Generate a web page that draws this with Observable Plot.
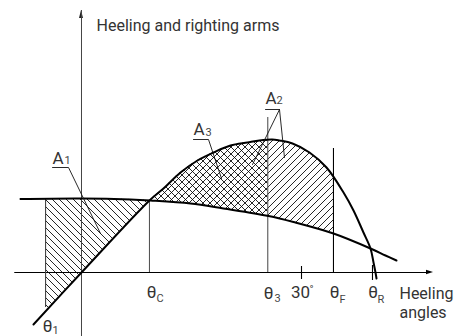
<!DOCTYPE html>
<html><head><meta charset="utf-8">
<script src="https://cdn.jsdelivr.net/npm/d3@7"></script>
<script src="https://cdn.jsdelivr.net/npm/@observablehq/plot@0.6"></script>
<style>
html,body{margin:0;padding:0;background:#fff;overflow:hidden}
#wrap{position:relative;width:456px;height:336px;overflow:hidden}
#title{position:absolute;left:4px;top:-21px;font:bold 20px "Liberation Sans",Arial,sans-serif;line-height:20px;white-space:nowrap;color:#000}
#chart{position:absolute;left:0;top:0}
</style></head><body>
<div id="wrap"><div id="chart"></div><div id="title">Figure 3: Heeling moment (criteria)</div></div>
<script>
// Heeling arm curve (angle in degrees, arm in arbitrary units)
const heelDeg = [-8.32, 0, 6.68, 9.41, 14.86, 19.36, 25.5, 28.91, 34.36, 39.41, 41.45, 42.95];
const heelArm = [0.735, 0.74, 0.73, 0.72, 0.69, 0.64, 0.565, 0.505, 0.39, 0.24, 0.17, 0.12];
// Righting arm curve
const rightDeg = [-6.55, 0, 9.27, 11.18, 13.5, 15.82, 18.0, 20.32, 22.64, 24.27, 26.0, 27.0, 28.77, 31.09, 33.41, 35.73, 37.09, 38.45, 39.41, 39.82, 40.09, 40.23];
const rightArm = [-0.52, 0, 0.72, 0.84, 1.00, 1.12, 1.20, 1.27, 1.30, 1.32, 1.33, 1.32, 1.29, 1.20, 1.05, 0.80, 0.62, 0.40, 0.24, 0.10, 0.0, -0.06];
// Characteristic angles
const theta1 = -4.9, thetaC = 9.27, theta3 = 25.4, thetaF = 34.36, thetaR = 39.68;
// Vertical markers
const markerDeg = [theta1, thetaC, theta3, thetaF, 30, thetaR];
const markerLo = [-0.35, 0, 0, 0, -0.07, -0.08];
const markerHi = [0.735, 0.72, 1.55, 1.24, 0.06, 0.07];
const markerColor = ["#444", "#555", "#555", "#000", "#000", "#000"];
// Axis-angle labels
const tickLabels = ["θ", "θ", "θ", "30", "θ", "θ"];
const tickLabelDeg = [-4.64, 9.55, 25.5, 29.86, 34.5, 39.75];
const tickLabelArm = [-0.59, -0.25, -0.26, -0.25, -0.25, -0.25];
const tickSubs = ["1", "C", "3", "°", "F", "R"];
const tickSubDeg = [-3.95, 10.23, 26.32, 31.09, 35.18, 40.36];
const tickSubArm = [-0.61, -0.29, -0.29, -0.20, -0.30, -0.30];
// Area labels
const areaLabels = ["A", "A", "A"];
const areaLabelDeg = [-3.95, 15.27, 25.09];
const areaLabelArm = [1.09, 1.375, 1.69];
const areaSubs = ["1", "3", "2"];
const areaSubDeg = [-2.32, 16.91, 26.59];
const areaSubArm = [1.09, 1.37, 1.69];
// Leader lines (underline + pointer) for area labels
const leaderId = ["A1", "A1", "A1", "A3", "A3", "A3", "A2a", "A2a", "A2a", "A2b", "A2b"];
const leaderDeg = [-3.95, -1.77, 2.59, 15.27, 17.32, 19.09, 25.09, 27.0, 23.32, 27.0, 27.68];
const leaderArm = [1.05, 1.05, 0.39, 1.33, 1.33, 0.94, 1.63, 1.63, 1.08, 1.63, 1.15];
// Axis titles
const axisTitles = ["Heeling and righting arms", "Heeling", "angles"];
const axisTitleDeg = [2.045, 43.36, 43.36];
const axisTitleArm = [2.415, -0.26, -0.45];
// Axis extents
const xAxisFrom = -9.1, xAxisTo = 48.0, yAxisFrom = -0.64, yAxisTo = 2.62;

const heel = heelDeg.map((d, i) => ({deg: d, arm: heelArm[i]}));
const right = rightDeg.map((d, i) => ({deg: d, arm: rightArm[i]}));
const markers = markerDeg.map((d, i) => ({deg: d, lo: markerLo[i], hi: markerHi[i], c: markerColor[i]}));
const tl = tickLabels.map((t, i) => ({t, deg: tickLabelDeg[i], arm: tickLabelArm[i]}));
const ts = tickSubs.map((t, i) => ({t, deg: tickSubDeg[i], arm: tickSubArm[i]}));
const al = areaLabels.map((t, i) => ({t, deg: areaLabelDeg[i], arm: areaLabelArm[i]}));
const as = areaSubs.map((t, i) => ({t, deg: areaSubDeg[i], arm: areaSubArm[i]}));
const leaders = leaderId.map((id, i) => ({id, deg: leaderDeg[i], arm: leaderArm[i]}));
const titles = axisTitles.map((t, i) => ({t, deg: axisTitleDeg[i], arm: axisTitleArm[i]}));

const regions = [
  {from: theta1, to: thetaC, pattern: "hatchBack", clipA: "belowHeel", clipB: "aboveRight"},
  {from: thetaC, to: theta3, pattern: "hatchCross", clipA: "belowRight", clipB: "aboveHeel"},
  {from: theta3, to: thetaF, pattern: "hatchFwd", clipA: "belowRight", clipB: "aboveHeel"}
];

function hatchLayer(index, scales) {
  const x = scales.x, y = scales.y;
  const g = d3.create("svg:g");
  const defs = g.append("defs");
  const s = 7;
  const pat = (id, d) => defs.append("pattern").attr("id", id)
    .attr("patternUnits", "userSpaceOnUse").attr("width", s).attr("height", s)
    .append("path").attr("d", d).attr("stroke", "#000").attr("stroke-width", 0.85).attr("fill", "none");
  const back = `M0,0L${s},${s}M-1,${s - 1}L1,${s + 1}M${s - 1},-1L${s + 1},1`;
  const fwd = `M0,${s}L${s},0M-1,1L1,-1M${s - 1},${s + 1}L${s + 1},${s - 1}`;
  pat("hatchBack", back);
  pat("hatchFwd", fwd);
  pat("hatchCross", back + fwd);
  const yTop = y(2.72), yBot = y(-0.64);
  const mk = (y0) => d3.area().x(d => x(d.deg)).y0(y0).y1(d => y(d.arm)).curve(d3.curveCatmullRom);
  const clips = {belowHeel: mk(yBot)(heel), aboveHeel: mk(yTop)(heel), belowRight: mk(yBot)(right), aboveRight: mk(yTop)(right)};
  for (const [id, d] of Object.entries(clips)) defs.append("clipPath").attr("id", id).append("path").attr("d", d);
  for (const r of regions) {
    g.append("g").attr("clip-path", `url(#${r.clipA})`)
      .append("rect").attr("clip-path", `url(#${r.clipB})`)
      .attr("x", x(r.from)).attr("width", x(r.to) - x(r.from))
      .attr("y", yTop).attr("height", yBot - yTop)
      .attr("fill", `url(#${r.pattern})`);
  }
  // axis arrowheads
  const ax = x(0), ay = y(yAxisTo);
  g.append("path").attr("d", `M${ax},${ay}L${ax - 2},${ay + 8}L${ax + 2},${ay + 8}Z`).attr("fill", "#222");
  const bx = x(xAxisTo), by = y(0);
  g.append("path").attr("d", `M${bx},${by}L${bx - 7},${by - 2.2}L${bx - 7},${by + 2.2}Z`).attr("fill", "#000");
  return g.node();
}

const font = "Roboto, 'Liberation Sans', sans-serif";
const plot = Plot.plot({
  width: 456, height: 336,
  marginLeft: 0, marginRight: 0, marginTop: 0, marginBottom: 0,
  x: {domain: [-11.045, 51.136], axis: null},
  y: {domain: [-0.64, 2.72], axis: null},
  color: {type: "identity"},
  style: {background: "white", overflow: "visible"},
  marks: [
    hatchLayer,
    Plot.ruleX([0], {y1: yAxisFrom, y2: yAxisTo, stroke: "#444", strokeWidth: 1}),
    Plot.ruleY([0], {x1: xAxisFrom, x2: xAxisTo - 0.5, stroke: "#000", strokeWidth: 1.2}),
    Plot.ruleX(markers, {x: "deg", y1: "lo", y2: "hi", stroke: "c", strokeWidth: 1.1}),
    Plot.line(heel, {x: "deg", y: "arm", curve: "catmull-rom", stroke: "#000", strokeWidth: 2}),
    Plot.line(right, {x: "deg", y: "arm", curve: "catmull-rom", stroke: "#000", strokeWidth: 2}),
    Plot.line(leaders, {x: "deg", y: "arm", z: "id", stroke: "#111", strokeWidth: 0.9}),
    Plot.text(tl, {x: "deg", y: "arm", text: "t", fontSize: 17, fontFamily: font, fill: "#333", textAnchor: "middle", lineAnchor: "bottom"}),
    Plot.text(ts, {x: "deg", y: "arm", text: "t", fontSize: 11, fontFamily: font, fill: "#444", textAnchor: "start", lineAnchor: "bottom"}),
    Plot.text(al, {x: "deg", y: "arm", text: "t", fontSize: 17, fontFamily: font, fill: "#333", textAnchor: "start", lineAnchor: "bottom"}),
    Plot.text(as, {x: "deg", y: "arm", text: "t", fontSize: 11, fontFamily: font, fill: "#444", textAnchor: "start", lineAnchor: "bottom"}),
    Plot.text(titles, {x: "deg", y: "arm", text: "t", fontSize: 16, fontFamily: font, fill: "#333", textAnchor: "start", lineAnchor: "bottom"})
  ]
});
document.getElementById("chart").appendChild(plot);
</script>
</body></html>
